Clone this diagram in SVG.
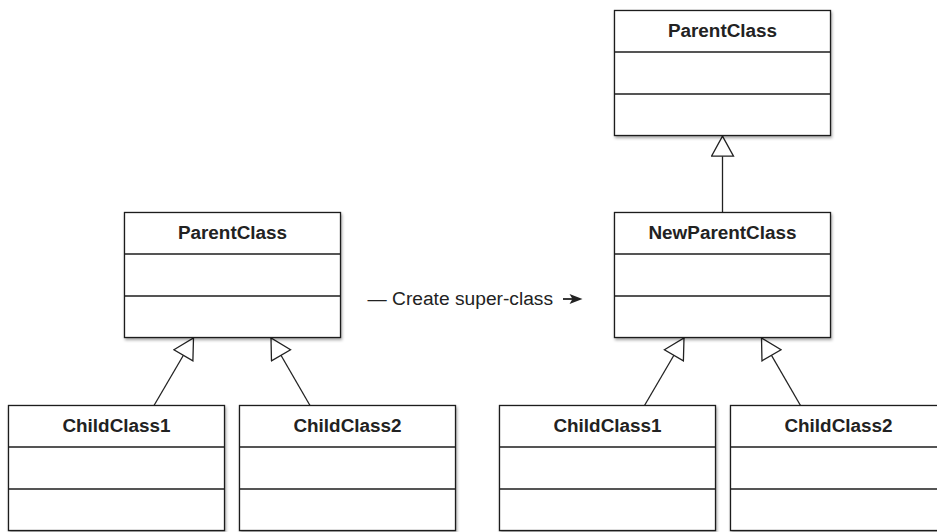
<svg xmlns="http://www.w3.org/2000/svg" width="937" height="532" viewBox="0 0 937 532">
  <style>
    .box { fill: #ffffff; stroke: #1e1e1e; stroke-width: 1.3; }
    .div { stroke: #1e1e1e; stroke-width: 1.3; fill: none; }
    .title { font-family: "Liberation Sans", Arial, sans-serif; font-size: 18.9px; font-weight: bold; fill: #222222; text-anchor: middle; }
    .label { font-family: "Liberation Sans", Arial, sans-serif; font-size: 19.2px; fill: #222222; }
    .conn { stroke: #222222; stroke-width: 1.3; fill: none; }
  </style>
  <defs>
    <filter id="shadow" x="-10%" y="-10%" width="120%" height="125%">
      <feDropShadow dx="1" dy="2" stdDeviation="1.5" flood-color="#000000" flood-opacity="0.35"/>
    </filter>
    <marker id="gen" viewBox="0 0 24 24" markerUnits="userSpaceOnUse" markerWidth="24" markerHeight="24" refX="22" refY="12" orient="auto">
      <path d="M2,1 L22,12 L2,23 Z" fill="#ffffff" stroke="#222222" stroke-width="1.3"/>
    </marker>
  </defs>
  <rect width="937" height="532" fill="#ffffff"/>

  <g id="connectors">
    <path class="conn" d="M722.5,212.5 L722.5,136.2" marker-end="url(#gen)"/>
    <path class="conn" d="M154,405.5 L193.5,338" marker-end="url(#gen)"/>
    <path class="conn" d="M310,405.5 L271,338" marker-end="url(#gen)"/>
    <path class="conn" d="M644.5,405.5 L684,338" marker-end="url(#gen)"/>
    <path class="conn" d="M800.5,405.5 L761.5,338" marker-end="url(#gen)"/>
  </g>

  <g id="parent-top">
    <rect class="box" x="614.5" y="10.5" width="216" height="125" filter="url(#shadow)"/>
    <path class="div" d="M614.5,52 H830.5 M614.5,94 H830.5"/>
    <text class="title" x="722.5" y="37">ParentClass</text>
  </g>

  <g id="parent-left">
    <rect class="box" x="124.5" y="212.5" width="216" height="125" filter="url(#shadow)"/>
    <path class="div" d="M124.5,254 H340.5 M124.5,296 H340.5"/>
    <text class="title" x="232.5" y="239">ParentClass</text>
  </g>

  <g id="new-parent">
    <rect class="box" x="614.5" y="212.5" width="216" height="125" filter="url(#shadow)"/>
    <path class="div" d="M614.5,254 H830.5 M614.5,296 H830.5"/>
    <text class="title" x="722.5" y="239">NewParentClass</text>
  </g>

  <g id="child-left-1">
    <rect class="box" x="8.5" y="405.5" width="216" height="125" filter="url(#shadow)"/>
    <path class="div" d="M8.5,447 H224.5 M8.5,489 H224.5"/>
    <text class="title" x="116.5" y="432">ChildClass1</text>
  </g>

  <g id="child-left-2">
    <rect class="box" x="239.5" y="405.5" width="216" height="125" filter="url(#shadow)"/>
    <path class="div" d="M239.5,447 H455.5 M239.5,489 H455.5"/>
    <text class="title" x="347.5" y="432">ChildClass2</text>
  </g>

  <g id="child-right-1">
    <rect class="box" x="499.5" y="405.5" width="216" height="125" filter="url(#shadow)"/>
    <path class="div" d="M499.5,447 H715.5 M499.5,489 H715.5"/>
    <text class="title" x="607.5" y="432">ChildClass1</text>
  </g>

  <g id="child-right-2">
    <rect class="box" x="730.5" y="405.5" width="216" height="125" filter="url(#shadow)"/>
    <path class="div" d="M730.5,447 H946.5 M730.5,489 H946.5"/>
    <text class="title" x="838.5" y="432">ChildClass2</text>
  </g>

  <g id="transform-label">
    <text class="label" x="367.5" y="304.5">— Create super-class</text>
    <path d="M563,299 H574" stroke="#222222" stroke-width="1.8"/>
    <path d="M582.5,299 L569.5,294 L572.5,299 L569.5,304 Z" fill="#222222"/>
  </g>
</svg>
